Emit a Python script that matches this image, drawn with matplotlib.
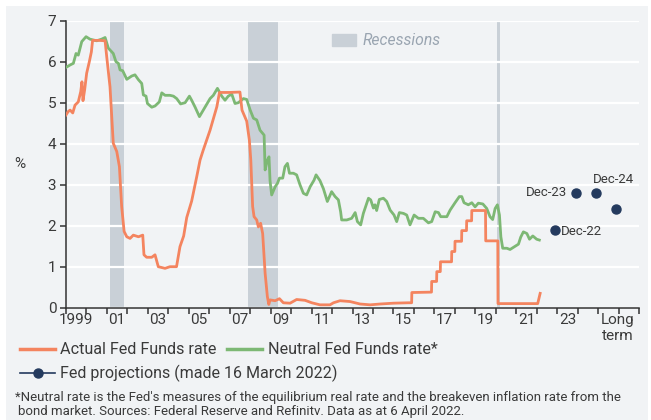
import matplotlib
matplotlib.use("Agg")
import matplotlib.pyplot as plt
from matplotlib.patches import Rectangle, Patch
from matplotlib.lines import Line2D

plt.rcParams['font.family'] = ['Roboto', 'DejaVu Sans']

# ---- data ----
actual_years = [1999.0, 1999.1, 1999.2, 1999.33, 1999.44, 1999.6, 1999.72, 1999.78, 1999.83, 1999.91,
                2000.01, 2000.14, 2000.24, 2000.3, 2000.6, 2000.91, 2000.99, 2001.15, 2001.31, 2001.48,
                2001.61, 2001.72, 2001.84, 2001.97, 2002.13, 2002.29, 2002.54, 2002.75, 2002.81, 2002.94,
                2003.19, 2003.35, 2003.51, 2003.84, 2004.08, 2004.4, 2004.57, 2004.75, 2004.9, 2005.14,
                2005.39, 2005.55, 2005.71, 2006.04, 2006.37, 2006.5, 2007.0, 2007.5, 2007.6, 2007.83,
                2007.96, 2008.03, 2008.12, 2008.19, 2008.32, 2008.4, 2008.51, 2008.61, 2008.73, 2008.84,
                2008.91, 2008.97, 2009.22, 2009.43, 2009.62, 2009.95, 2010.27, 2010.68, 2011.01, 2011.41,
                2011.9, 2012.07, 2012.39, 2012.88, 2013.37, 2013.86, 2014.35, 2015.0, 2015.73, 2015.89,
                2015.9, 2016.86, 2016.87, 2017.11, 2017.12, 2017.29, 2017.3, 2017.84, 2017.85, 2018.0,
                2018.01, 2018.33, 2018.34, 2018.57, 2018.58, 2018.82, 2018.83, 2019.5, 2019.51, 2020.1,
                2020.11, 2022.05, 2022.17]
actual_rate = [4.70, 4.78, 4.82, 4.75, 4.94, 5.02, 5.27, 5.51, 5.05, 5.31,
               5.72, 6.0, 6.24, 6.52, 6.52, 6.51, 6.12, 5.39, 4.01, 3.81,
               3.44, 2.47, 1.86, 1.73, 1.69, 1.77, 1.73, 1.77, 1.29, 1.23,
               1.23, 1.29, 1.0, 0.96, 1.0, 1.0, 1.49, 1.75, 2.2, 2.6,
               3.2, 3.6, 3.85, 4.33, 4.9, 5.25, 5.25, 5.26, 4.82, 4.55,
               4.09, 3.6, 2.47, 2.22, 2.14, 1.97, 2.06, 1.81, 0.84, 0.27,
               0.08, 0.19, 0.17, 0.22, 0.12, 0.11, 0.2, 0.18, 0.12, 0.07,
               0.07, 0.12, 0.17, 0.15, 0.09, 0.07, 0.09, 0.11, 0.12, 0.12,
               0.37, 0.38, 0.64, 0.64, 0.88, 0.88, 1.12, 1.12, 1.37, 1.37,
               1.62, 1.62, 1.88, 1.88, 2.12, 2.12, 2.37, 2.37, 1.63, 1.63,
               0.1, 0.1, 0.35]

neutral_years = [1999.0, 1999.2, 1999.36, 1999.49, 1999.6, 1999.77, 1999.98, 2000.17, 2000.5, 2000.74,
                 2000.91, 2001.07, 2001.31, 2001.44, 2001.56, 2001.64, 2001.77, 2001.97, 2002.21, 2002.37,
                 2002.54, 2002.7, 2002.78, 2002.91, 2002.98, 2003.19, 2003.35, 2003.56, 2003.68, 2003.84,
                 2004.08, 2004.25, 2004.41, 2004.6, 2004.82, 2005.03, 2005.14, 2005.31, 2005.52, 2005.79,
                 2006.04, 2006.2, 2006.4, 2006.61, 2006.77, 2006.93, 2007.1, 2007.26, 2007.42, 2007.67,
                 2007.83, 2008.0, 2008.16, 2008.32, 2008.48, 2008.68, 2008.73, 2008.84, 2008.92, 2008.97,
                 2009.05, 2009.22, 2009.33, 2009.43, 2009.59, 2009.7, 2009.82, 2009.92, 2010.11, 2010.27,
                 2010.44, 2010.6, 2010.76, 2010.93, 2011.12, 2011.22, 2011.41, 2011.58, 2011.77, 2011.98,
                 2012.15, 2012.31, 2012.42, 2012.47, 2012.72, 2012.96, 2013.13, 2013.24, 2013.4, 2013.53,
                 2013.7, 2013.78, 2013.89, 2014.02, 2014.1, 2014.18, 2014.31, 2014.51, 2014.67, 2014.84,
                 2015.03, 2015.16, 2015.29, 2015.49, 2015.65, 2015.81, 2016.01, 2016.22, 2016.46, 2016.71,
                 2016.87, 2017.04, 2017.2, 2017.31, 2017.61, 2017.77, 2018.01, 2018.22, 2018.34, 2018.45,
                 2018.66, 2018.83, 2018.99, 2019.15, 2019.37, 2019.56, 2019.72, 2019.85, 2019.97, 2020.08,
                 2020.18, 2020.25, 2020.34, 2020.54, 2020.7, 2020.86, 2021.11, 2021.22, 2021.35, 2021.52,
                 2021.65, 2021.81, 2022.0, 2022.13]
neutral_rate = [5.86, 5.92, 5.96, 6.2, 6.16, 6.49, 6.61, 6.55, 6.51, 6.55,
                6.59, 6.33, 6.2, 6.0, 5.96, 5.8, 5.78, 5.57, 5.65, 5.68,
                5.56, 5.47, 5.19, 5.16, 4.98, 4.89, 4.92, 5.02, 5.24, 5.18,
                5.18, 5.16, 5.1, 4.97, 5.0, 5.16, 5.06, 4.89, 4.66, 4.89,
                5.1, 5.18, 5.35, 5.16, 5.06, 5.16, 5.21, 4.98, 5.0, 5.1,
                5.08, 4.82, 4.62, 4.58, 4.33, 4.21, 3.36, 3.6, 3.68, 3.1,
                2.75, 2.95, 3.03, 3.16, 3.16, 3.44, 3.52, 3.28, 3.28, 3.24,
                2.99, 2.79, 2.75, 2.95, 3.11, 3.24, 3.1, 2.9, 2.59, 2.83,
                2.71, 2.63, 2.34, 2.14, 2.14, 2.18, 2.32, 2.1, 2.02, 2.3,
                2.55, 2.67, 2.63, 2.43, 2.51, 2.37, 2.64, 2.67, 2.59, 2.38,
                2.26, 2.1, 2.32, 2.3, 2.26, 2.02, 2.26, 2.18, 2.18, 2.07,
                2.1, 2.34, 2.32, 2.22, 2.22, 2.38, 2.56, 2.71, 2.71, 2.56,
                2.51, 2.56, 2.46, 2.55, 2.53, 2.42, 2.22, 2.15, 2.42, 2.51,
                2.26, 1.73, 1.45, 1.45, 1.42, 1.47, 1.55, 1.72, 1.85, 1.81,
                1.67, 1.75, 1.67, 1.65]

proj_x = [2022.9, 2023.9, 2024.9, 2025.9]
proj_rate = [1.9, 2.8, 2.8, 2.4]
proj_labels = ['Dec-22', 'Dec-23', 'Dec-24', '']

recessions = [(2001.17, 2001.85), (2007.88, 2009.37), (2020.04, 2020.22)]

year_labels = ['1999', '01', '03', '05', '07', '09', '11', '13', '15', '17', '19', '21', '23']
long_term_pos = 2025.95

# ---- styling ----
BG = '#f1f3f5'
ORANGE = '#f4845f'
GREEN = '#7db874'
NAVY = '#243a5e'
REC = '#c9d0d7'
TXT = '#3a3a3a'

fig = plt.figure(figsize=(6.51, 4.2), dpi=100)
fig.patch.set_facecolor('white')
fig.add_artist(Rectangle((6 / 651, 0), 642 / 651, 414 / 420, transform=fig.transFigure,
                         facecolor=BG, edgecolor='none', zorder=-10))

ax = fig.add_axes([66 / 651, 1 - 307.7 / 420, 573 / 651, 287 / 420])
ax.set_facecolor(BG)
ax.set_axisbelow('line')

for a, b in recessions:
    ax.axvspan(a, b, color=REC, lw=0, zorder=1)

ax.plot(neutral_years, neutral_rate, color=GREEN, lw=2.0, zorder=3)
ax.plot(actual_years, actual_rate, color=ORANGE, lw=2.0, zorder=4)
ax.plot(proj_x, proj_rate, 'o', color=NAVY, ms=6.5, zorder=5, ls='none')

offsets = [(4, -1.5, 'left'), (-6, 0, 'right'), (-2, 10, 'left')]
for (x, y, lab), (dx, dy, ha) in zip(zip(proj_x, proj_rate, proj_labels), offsets):
    ax.annotate(lab, (x, y), xytext=(dx, dy), textcoords='offset points',
                ha=ha, va='center', fontsize=9.5, color=TXT)

ax.set_xlim(1999, 2027)
ax.set_ylim(0, 7)
ax.set_yticks(range(0, 8))
ax.grid(axis='y', color='white', lw=1.6)

ax.set_xticks(range(1999, 2028))
ax.set_xticklabels([])
ax.set_xticks([1999.5 + 2 * i for i in range(len(year_labels))] + [long_term_pos], minor=True)
ax.set_xticklabels(year_labels + ['Long\nterm'], minor=True)
ax.tick_params(axis='x', which='major', length=4.5, width=1.1, color='#333333')
ax.tick_params(axis='x', which='minor', length=0, pad=4, labelsize=11, labelcolor=TXT)
ax.tick_params(axis='y', length=4, width=1.1, color='#333333', labelsize=11, labelcolor=TXT, pad=3)

for s in ['top', 'right']:
    ax.spines[s].set_visible(False)
for s in ['left', 'bottom']:
    ax.spines[s].set_color('#333333')
    ax.spines[s].set_linewidth(1.1)

ax.set_ylabel('%', rotation=0, fontsize=11, color=TXT, labelpad=20, va='center')

ax.legend(handles=[Patch(color=REC, label='Recessions')], loc='upper left',
          bbox_to_anchor=(0.44, 1.005), frameon=False, handlelength=1.5, handleheight=0.75,
          handletextpad=0.4, prop={'style': 'italic', 'size': 11.3}, labelcolor='#9aa5b1')

# ---- bottom legend ----
def fx(px):
    return px / 651

def fy(py):
    return 1 - py / 420

fig.add_artist(Line2D([fx(20), fx(55)], [fy(349), fy(349)], color=ORANGE, lw=2.5))
fig.text(fx(60), fy(349), 'Actual Fed Funds rate', fontsize=11.6, color=TXT, va='center')
fig.add_artist(Line2D([fx(227), fx(262)], [fy(349), fy(349)], color=GREEN, lw=2.5))
fig.text(fx(268), fy(349), 'Neutral Fed Funds rate*', fontsize=11.6, color=TXT, va='center')
fig.add_artist(Line2D([fx(20), fx(55)], [fy(373), fy(373)], color=NAVY, lw=1.2))
fig.add_artist(Line2D([fx(37.5)], [fy(373)], color=NAVY, marker='o', ms=6.5, ls='none'))
fig.text(fx(60), fy(373), 'Fed projections (made 16 March 2022)', fontsize=11.5, color=TXT, va='center')

fig.text(fx(15), fy(398), "*Neutral rate is the Fed's measures of the equilibrium real rate and the breakeven inflation rate from the",
         fontsize=9.5, color=TXT, va='center')
fig.text(fx(18), fy(412), 'bond market. Sources: Federal Reserve and Refinitv. Data as at 6 April 2022.',
         fontsize=9.5, color=TXT, va='center')

fig.savefig('out.png', dpi=100, facecolor=fig.get_facecolor())
